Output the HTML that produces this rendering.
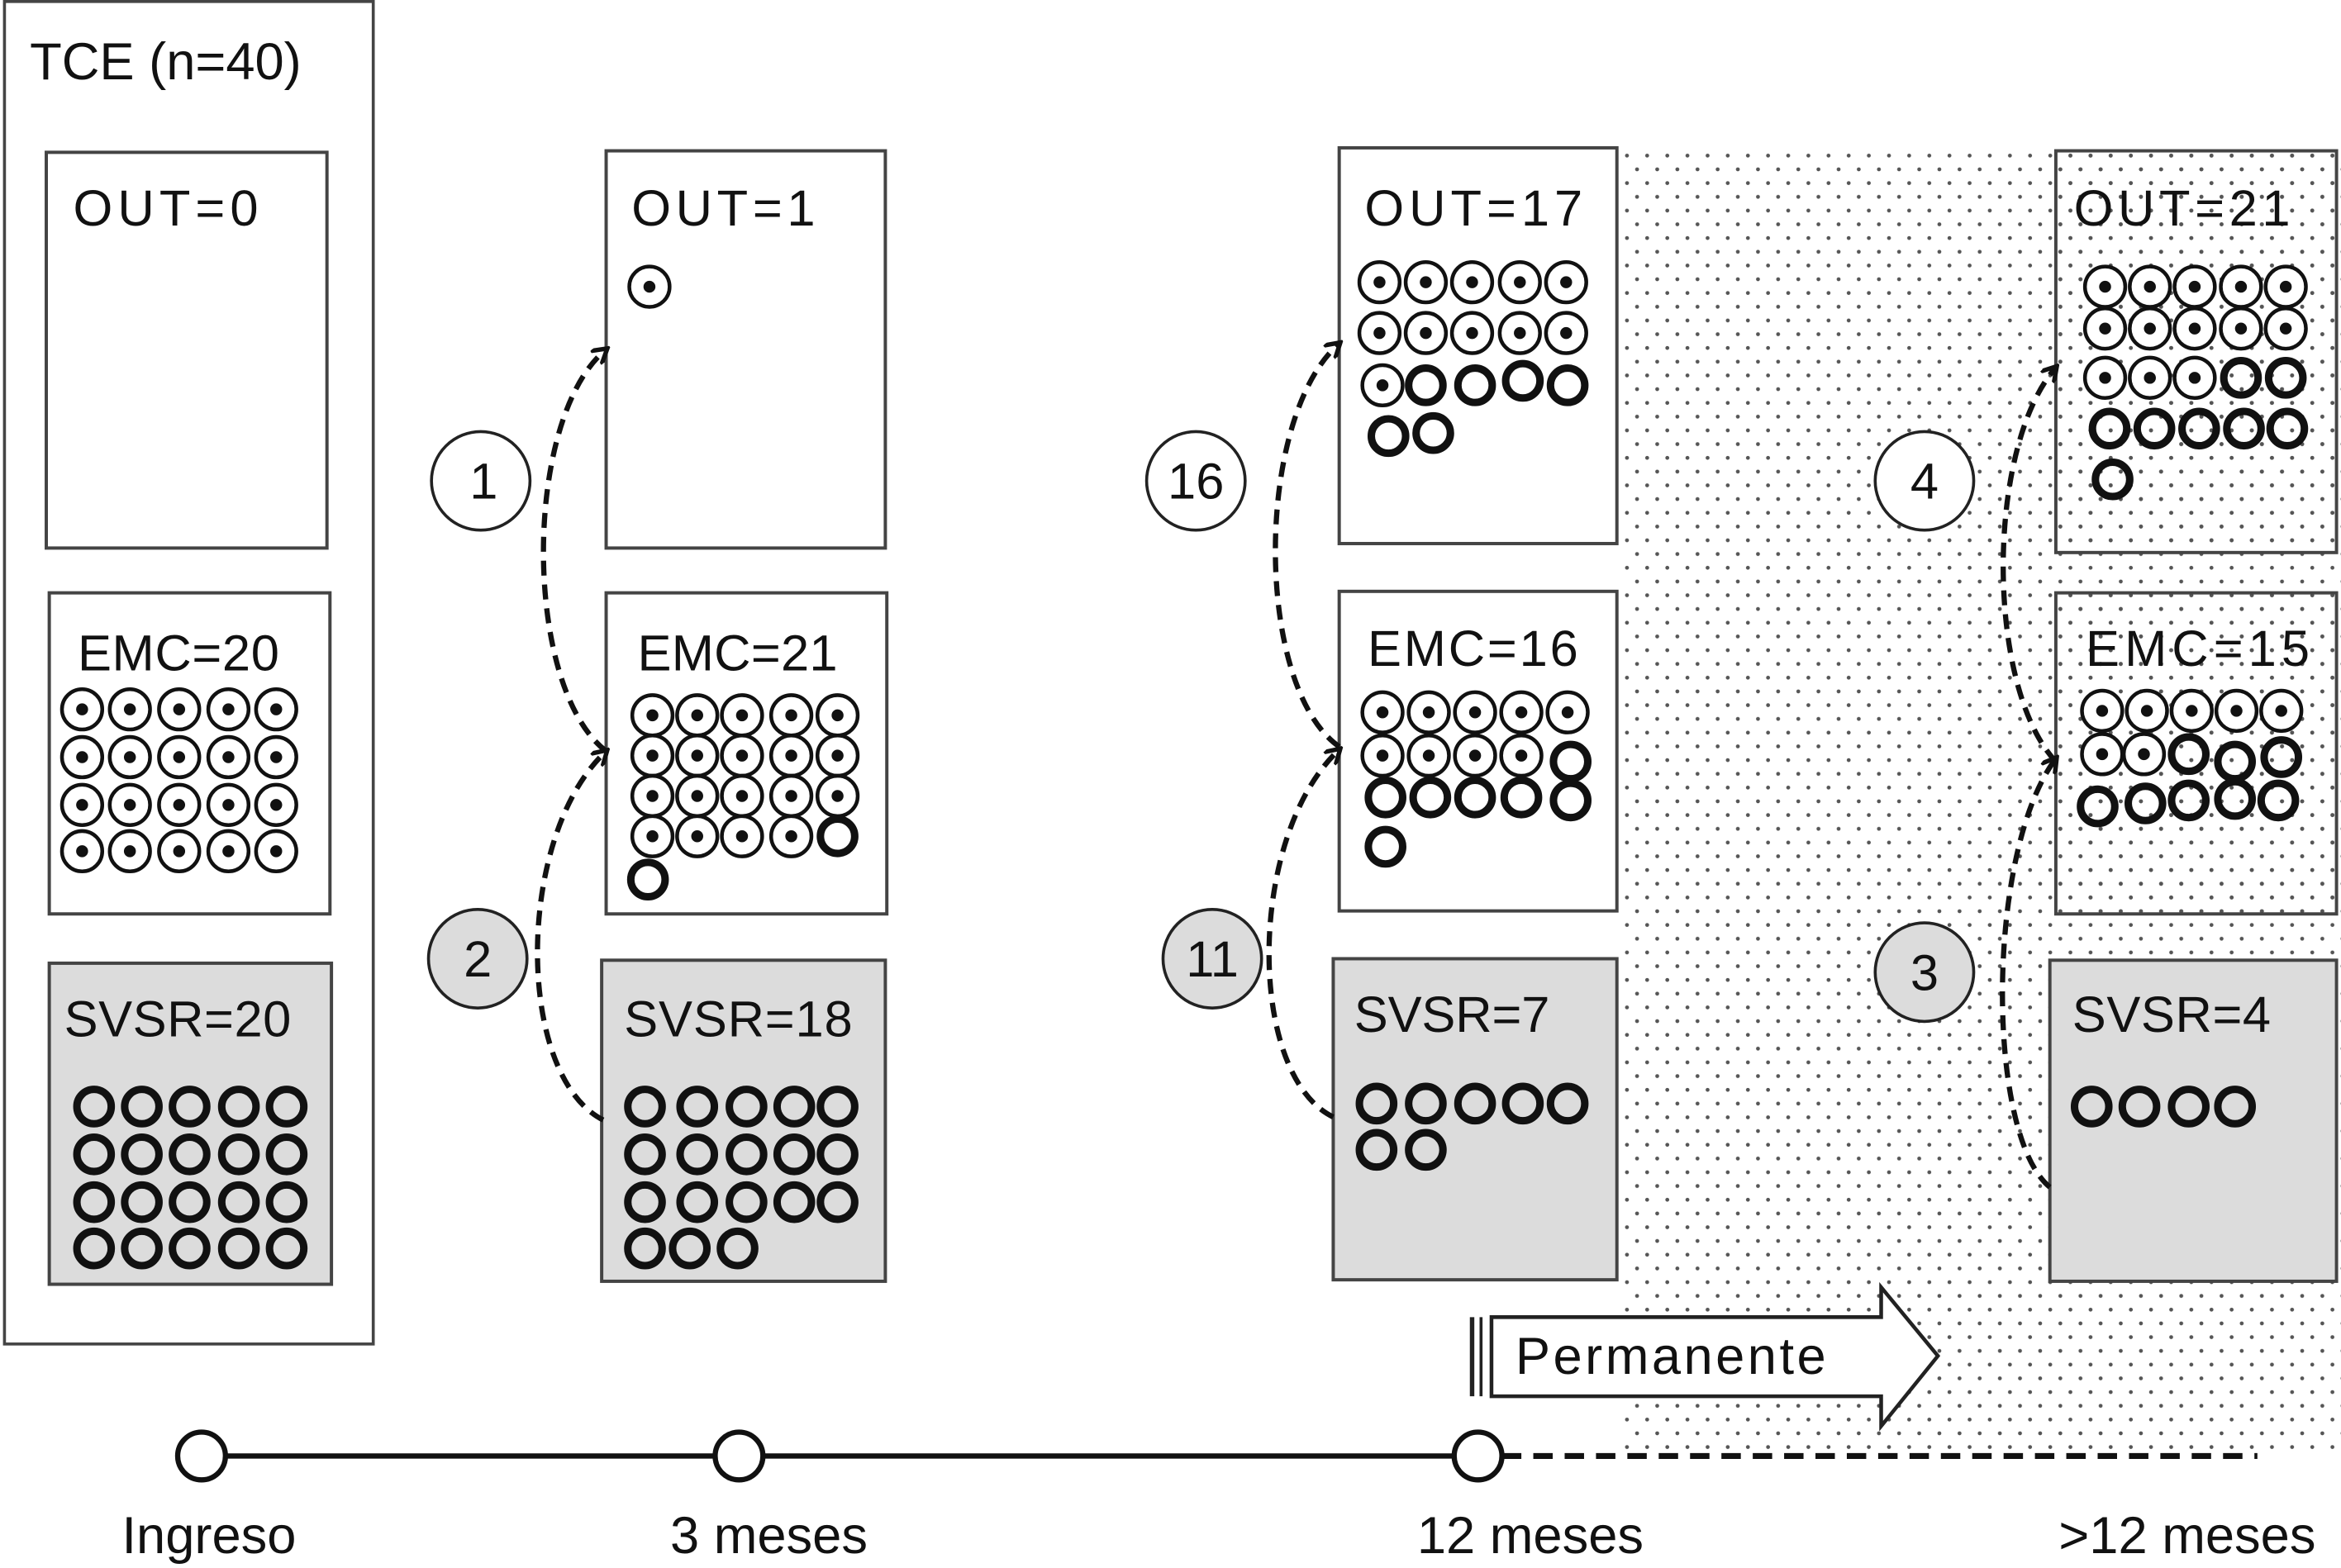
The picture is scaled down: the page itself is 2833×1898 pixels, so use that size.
<!DOCTYPE html>
<html><head><meta charset="utf-8"><style>
html,body{margin:0;padding:0;background:#fff}
svg{display:block}
text{font-family:"Liberation Sans",sans-serif;fill:#111}
</style></head><body>
<svg width="2833" height="1898" viewBox="0 0 1568 1050" preserveAspectRatio="none" xmlns="http://www.w3.org/2000/svg">
<defs>
<pattern id="dots" x="0" y="0" width="13.5" height="18.4" patternUnits="userSpaceOnUse">
<circle cx="3" cy="3" r="1.3" fill="#555"/><circle cx="9.75" cy="12.2" r="1.3" fill="#555"/>
</pattern>
<g id="t"><circle r="13.5" fill="#fff" stroke="#111" stroke-width="2.5"/><circle r="4" fill="#111"/></g>
<g id="r"><circle r="11.5" fill="none" stroke="#111" stroke-width="5"/></g>
<marker id="ah" markerWidth="12" markerHeight="12" refX="9" refY="6" orient="auto" markerUnits="userSpaceOnUse"><path d="M0,0 L10,6 L0,12" fill="none" stroke="#111" stroke-width="3"/></marker>
</defs>

<rect x="1088" y="100" width="480" height="875" fill="url(#dots)"/>

<rect x="3" y="1" width="247" height="899" fill="none" stroke="#444" stroke-width="2"/>
<text x="20" y="53" font-size="35">TCE (n=40)</text>

<g stroke="#444" stroke-width="2.2">
<rect x="31" y="102" width="188" height="265" fill="#fff"/>
<rect x="33" y="397" width="188" height="215" fill="#fff"/>
<rect x="33" y="645" width="189" height="215" fill="#dcdcdc"/>
<rect x="406" y="101" width="187" height="266" fill="#fff"/>
<rect x="406" y="397" width="188" height="215" fill="#fff"/>
<rect x="403" y="643" width="190" height="215" fill="#dcdcdc"/>
<rect x="897" y="99" width="186" height="265" fill="#fff"/>
<rect x="897" y="396" width="186" height="214" fill="#fff"/>
<rect x="893" y="642" width="190" height="215" fill="#dcdcdc"/>
<rect x="1377" y="101" width="188" height="269" fill="url(#dots)"/>
<rect x="1377" y="397" width="188" height="215" fill="url(#dots)"/>
<rect x="1373" y="643" width="192" height="215" fill="#dcdcdc"/>
</g>

<g font-size="34">
<text x="49" y="151" textLength="124">OUT=0</text>
<text x="52" y="449" textLength="135">EMC=20</text>
<text x="43" y="694" textLength="152">SVSR=20</text>
<text x="423" y="151" textLength="123">OUT=1</text>
<text x="427" y="449" textLength="134">EMC=21</text>
<text x="418" y="694" textLength="153">SVSR=18</text>
<text x="914" y="151" textLength="146">OUT=17</text>
<text x="916" y="446" textLength="141">EMC=16</text>
<text x="907" y="691" textLength="131">SVSR=7</text>
<text x="1389" y="151" textLength="145">OUT=21</text>
<text x="1397" y="446" textLength="150">EMC=15</text>
<text x="1388" y="691" textLength="133">SVSR=4</text>
</g>

<g>
<use href="#t" x="55" y="475"/><use href="#t" x="87" y="475"/><use href="#t" x="120" y="475"/><use href="#t" x="153" y="475"/><use href="#t" x="185" y="475"/>
<use href="#t" x="55" y="507"/><use href="#t" x="87" y="507"/><use href="#t" x="120" y="507"/><use href="#t" x="153" y="507"/><use href="#t" x="185" y="507"/>
<use href="#t" x="55" y="539"/><use href="#t" x="87" y="539"/><use href="#t" x="120" y="539"/><use href="#t" x="153" y="539"/><use href="#t" x="185" y="539"/>
<use href="#t" x="55" y="570"/><use href="#t" x="87" y="570"/><use href="#t" x="120" y="570"/><use href="#t" x="153" y="570"/><use href="#t" x="185" y="570"/>
</g>
<g>
<use href="#r" x="63" y="741"/><use href="#r" x="95" y="741"/><use href="#r" x="127" y="741"/><use href="#r" x="160" y="741"/><use href="#r" x="192" y="741"/>
<use href="#r" x="63" y="773"/><use href="#r" x="95" y="773"/><use href="#r" x="127" y="773"/><use href="#r" x="160" y="773"/><use href="#r" x="192" y="773"/>
<use href="#r" x="63" y="805"/><use href="#r" x="95" y="805"/><use href="#r" x="127" y="805"/><use href="#r" x="160" y="805"/><use href="#r" x="192" y="805"/>
<use href="#r" x="63" y="836"/><use href="#r" x="95" y="836"/><use href="#r" x="127" y="836"/><use href="#r" x="160" y="836"/><use href="#r" x="192" y="836"/>
</g>

<use href="#t" x="435" y="192"/>
<g>
<use href="#t" x="437" y="479"/><use href="#t" x="467" y="479"/><use href="#t" x="497" y="479"/><use href="#t" x="530" y="479"/><use href="#t" x="561" y="479"/>
<use href="#t" x="437" y="506"/><use href="#t" x="467" y="506"/><use href="#t" x="497" y="506"/><use href="#t" x="530" y="506"/><use href="#t" x="561" y="506"/>
<use href="#t" x="437" y="533"/><use href="#t" x="467" y="533"/><use href="#t" x="497" y="533"/><use href="#t" x="530" y="533"/><use href="#t" x="561" y="533"/>
<use href="#t" x="437" y="560"/><use href="#t" x="467" y="560"/><use href="#t" x="497" y="560"/><use href="#t" x="530" y="560"/><use href="#r" x="561" y="560"/>
<use href="#r" x="434" y="589"/>
</g>
<g>
<use href="#r" x="432" y="741"/><use href="#r" x="467" y="741"/><use href="#r" x="500" y="741"/><use href="#r" x="532" y="741"/><use href="#r" x="561" y="741"/>
<use href="#r" x="432" y="773"/><use href="#r" x="467" y="773"/><use href="#r" x="500" y="773"/><use href="#r" x="532" y="773"/><use href="#r" x="561" y="773"/>
<use href="#r" x="432" y="805"/><use href="#r" x="467" y="805"/><use href="#r" x="500" y="805"/><use href="#r" x="532" y="805"/><use href="#r" x="561" y="805"/>
<use href="#r" x="432" y="836"/><use href="#r" x="462" y="836"/><use href="#r" x="494" y="836"/>
</g>

<g>
<use href="#t" x="924" y="189"/><use href="#t" x="955" y="189"/><use href="#t" x="986" y="189"/><use href="#t" x="1018" y="189"/><use href="#t" x="1049" y="189"/>
<use href="#t" x="924" y="223"/><use href="#t" x="955" y="223"/><use href="#t" x="986" y="223"/><use href="#t" x="1018" y="223"/><use href="#t" x="1049" y="223"/>
<use href="#t" x="926" y="258"/><use href="#r" x="955" y="258"/><use href="#r" x="988" y="258"/><use href="#r" x="1020" y="255"/><use href="#r" x="1050" y="258"/>
<use href="#r" x="930" y="292"/><use href="#r" x="960" y="290"/>
</g>
<g>
<use href="#t" x="926" y="477"/><use href="#t" x="957" y="477"/><use href="#t" x="988" y="477"/><use href="#t" x="1019" y="477"/><use href="#t" x="1050" y="477"/>
<use href="#t" x="926" y="506"/><use href="#t" x="957" y="506"/><use href="#t" x="988" y="506"/><use href="#t" x="1019" y="506"/><use href="#r" x="1052" y="510"/>
<use href="#r" x="928" y="534"/><use href="#r" x="958" y="534"/><use href="#r" x="988" y="534"/><use href="#r" x="1019" y="534"/><use href="#r" x="1052" y="536"/>
<use href="#r" x="928" y="567"/>
</g>
<g>
<use href="#r" x="922" y="739"/><use href="#r" x="955" y="739"/><use href="#r" x="988" y="739"/><use href="#r" x="1020" y="739"/><use href="#r" x="1050" y="739"/>
<use href="#r" x="922" y="770"/><use href="#r" x="955" y="770"/>
</g>

<g>
<use href="#t" x="1410" y="192"/><use href="#t" x="1440" y="192"/><use href="#t" x="1470" y="192"/><use href="#t" x="1501" y="192"/><use href="#t" x="1531" y="192"/>
<use href="#t" x="1410" y="220"/><use href="#t" x="1440" y="220"/><use href="#t" x="1470" y="220"/><use href="#t" x="1501" y="220"/><use href="#t" x="1531" y="220"/>
<use href="#t" x="1410" y="253"/><use href="#t" x="1440" y="253"/><use href="#t" x="1470" y="253"/><use href="#r" x="1501" y="253"/><use href="#r" x="1531" y="253"/>
<use href="#r" x="1413" y="287"/><use href="#r" x="1443" y="287"/><use href="#r" x="1473" y="287"/><use href="#r" x="1503" y="287"/><use href="#r" x="1532" y="287"/>
<use href="#r" x="1415" y="321"/>
</g>
<g>
<use href="#t" x="1408" y="476"/><use href="#t" x="1438" y="476"/><use href="#t" x="1468" y="476"/><use href="#t" x="1498" y="476"/><use href="#t" x="1528" y="476"/>
<use href="#t" x="1408" y="505"/><use href="#t" x="1436" y="505"/><use href="#r" x="1466" y="505"/><use href="#r" x="1497" y="510"/><use href="#r" x="1528" y="507"/>
<use href="#r" x="1405" y="540"/><use href="#r" x="1437" y="538"/><use href="#r" x="1466" y="536"/><use href="#r" x="1497" y="535"/><use href="#r" x="1526" y="536"/>
</g>
<g>
<use href="#r" x="1401" y="741"/><use href="#r" x="1433" y="741"/><use href="#r" x="1466" y="741"/><use href="#r" x="1497" y="741"/>
</g>

<g fill="none" stroke="#111" stroke-width="3.5" stroke-dasharray="10,6" marker-end="url(#ah)">
<path d="M406,503 C350,460 350,280 406,234"/>
<path d="M404,750 C345,720 345,560 406,503"/>
<path d="M897,500 C840,460 840,280 897,230"/>
<path d="M893,748 C835,720 835,560 897,502"/>
<path d="M1377,510 C1330,460 1330,300 1377,246"/>
<path d="M1373,795 C1330,760 1330,570 1377,508"/>
</g>

<g stroke="#222" stroke-width="2">
<circle cx="322" cy="322" r="33" fill="#fff"/>
<circle cx="320" cy="642" r="33" fill="#dcdcdc"/>
<circle cx="801" cy="322" r="33" fill="#fff"/>
<circle cx="812" cy="642" r="33" fill="#dcdcdc"/>
<circle cx="1289" cy="322" r="33" fill="#fff"/>
<circle cx="1289" cy="651" r="33" fill="#dcdcdc"/>
</g>
<g font-size="34" text-anchor="middle">
<text x="324" y="334">1</text>
<text x="320" y="654">2</text>
<text x="801" y="334">16</text>
<text x="812" y="654">11</text>
<text x="1289" y="334">4</text>
<text x="1289" y="663">3</text>
</g>

<path d="M999,882 L1260,882 L1260,862 L1298,908 L1260,955 L1260,935 L999,935 Z" fill="#fff" stroke="#222" stroke-width="2.5"/>
<line x1="986" y1="882" x2="986" y2="935" stroke="#222" stroke-width="3"/>
<line x1="992" y1="882" x2="992" y2="935" stroke="#222" stroke-width="2"/>
<text x="1015" y="920" font-size="35" textLength="208">Permanente</text>

<line x1="135" y1="975" x2="990" y2="975" stroke="#111" stroke-width="3.5"/>
<line x1="1006" y1="975" x2="1512" y2="975" stroke="#111" stroke-width="4" stroke-dasharray="13,8"/>
<g fill="#fff" stroke="#111" stroke-width="3.5">
<circle cx="135" cy="975" r="16"/>
<circle cx="495" cy="975" r="16"/>
<circle cx="990" cy="975" r="16"/>
</g>
<g font-size="35" text-anchor="middle">
<text x="140" y="1040">Ingreso</text>
<text x="515" y="1040">3 meses</text>
<text x="1025" y="1040">12 meses</text>
<text x="1465" y="1040">&gt;12 meses</text>
</g>
</svg>
</body></html>
